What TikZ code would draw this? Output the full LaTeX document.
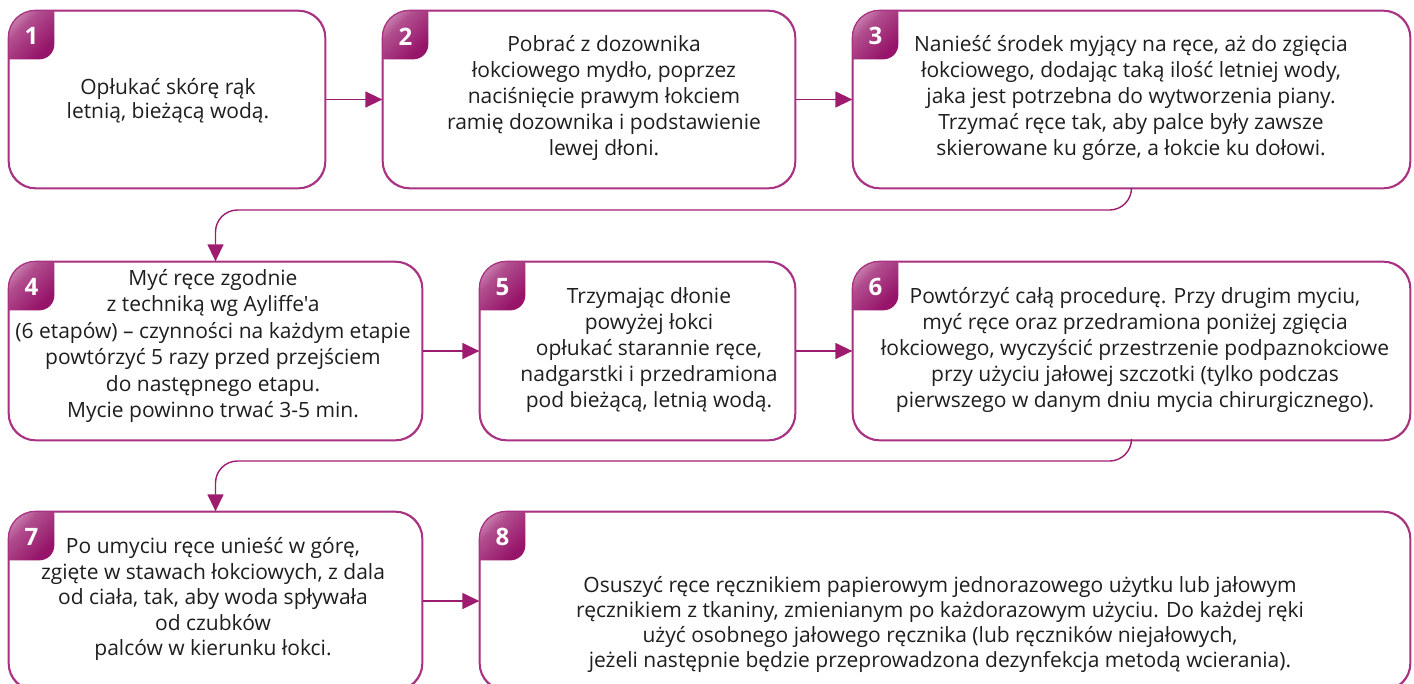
\documentclass[tikz,border=0pt]{standalone}
\usepackage{fontspec}
\setmainfont{Open Sans}[Ligatures=TeXOff]
\usetikzlibrary{arrows.meta,calc}
\definecolor{mag}{RGB}{158,28,112}
\definecolor{magline}{RGB}{170,50,130}
\definecolor{badgelight}{RGB}{240,212,228}
\definecolor{badgedark}{RGB}{150,20,105}
\definecolor{txt}{RGB}{30,30,30}
\tikzset{
  box/.style={draw=magline, line width=1.3pt, rounded corners=27pt, fill=white, inner sep=0pt},
  conn/.style={draw=mag, line width=1.4pt, -{Triangle[length=17pt,width=16pt]}},
  rowconn/.style={conn, rounded corners=22pt},
  body/.style={text=txt, align=center, inner sep=0pt},
  num/.style={text=white, font=\fontsize{24}{24}\selectfont\bfseries, inner sep=0pt},
}
\newcommand{\mkbadge}[3]{%
  \begin{scope}
    \clip[rounded corners=27pt] (#1.north west) rectangle (#1.south east);
    \shade[top color=badgelight, bottom color=badgedark, middle color=badgedark!70!badgelight, shading angle=45, rounded corners=15pt]
      ($(#1.north west)+(-20,-12)$) rectangle ($(#1.north west)+(46,49)$);
  \end{scope}
  \draw[magline, line width=1.3pt, rounded corners=27pt] (#1.north west) rectangle (#1.south east);
  \node[num] (#2) at ($(#1.north west)+(23,26)$) {#3};
}
\begin{document}
\begin{tikzpicture}[x=1pt,y=-1pt]
\useasboundingbox (0,0) rectangle (1414,683);
\clip (0,0) rectangle (1414,683);
% boxes
\node[box, minimum width=316pt, minimum height=177pt] (b1) at (167,99.5) {};
\node[box, minimum width=412pt, minimum height=177pt] (b2) at (589,99.5) {};
\node[box, minimum width=557pt, minimum height=177pt] (b3) at (1131.5,99.5) {};
\node[box, minimum width=413pt, minimum height=178pt] (b4) at (215.5,351) {};
\node[box, minimum width=315pt, minimum height=178pt] (b5) at (637.5,351) {};
\node[box, minimum width=557pt, minimum height=178pt] (b6) at (1131.5,351) {};
\node[box, minimum width=413pt, minimum height=178pt] (b7) at (215.5,601) {};
\node[box, minimum width=930pt, minimum height=178pt] (b8) at (945,601) {};
% badges
\mkbadge{b1}{n1}{1}
\mkbadge{b2}{n2}{2}
\mkbadge{b3}{n3}{3}
\mkbadge{b4}{n4}{4}
\mkbadge{b5}{n5}{5}
\mkbadge{b6}{n6}{6}
\mkbadge{b7}{n7}{7}
\mkbadge{b8}{n8}{8}
% texts
\node[body, font=\fontsize{21}{24}\selectfont] (t1) at (168,101) {Opłukać skórę rąk\\letnią, bieżącą wodą.};
\node[body, font=\fontsize{21}{26}\selectfont] (t2) at (604,98) {Pobrać z dozownika\\łokciowego mydło, poprzez\\naciśnięcie prawym łokciem\\ramię dozownika i podstawienie\\lewej dłoni.};
\node[body, font=\fontsize{21}{26}\selectfont] (t3) at (1131,98) {Nanieść środek myjący na ręce, aż do zgięcia\\łokciowego, dodając taką ilość letniej wody,\\jaka jest potrzebna do wytworzenia piany.\\Trzymać ręce tak, aby palce były zawsze\\skierowane ku górze, a łokcie ku dołowi.};
\node[body, font=\fontsize{21}{26.5}\selectfont] (t4) at (213,346) {Myć ręce zgodnie\\z techniką wg Ayliffe'a\\(6 etapów) – czynności na każdym etapie\\powtórzyć 5 razy przed przejściem\\do następnego etapu.\\Mycie powinno trwać 3-5 min.};
\node[body, font=\fontsize{21}{26}\selectfont] (t5) at (649,350) {Trzymając dłonie\\powyżej łokci\\opłukać starannie ręce,\\nadgarstki i przedramiona\\pod bieżącą, letnią wodą.};
\node[body, font=\fontsize{21}{26}\selectfont] (t6) at (1135,350) {Powtórzyć całą procedurę. Przy drugim myciu,\\myć ręce oraz przedramiona poniżej zgięcia\\łokciowego, wyczyścić przestrzenie podpaznokciowe\\przy użyciu jałowej szczotki (tylko podczas\\pierwszego w danym dniu mycia chirurgicznego).};
\node[body, font=\fontsize{21}{25.5}\selectfont] (t7) at (213,599) {Po umyciu ręce unieść w górę,\\zgięte w stawach łokciowych, z dala\\od ciała, tak, aby woda spływała\\od czubków\\palców w kierunku łokci.};
\node[body, font=\fontsize{21}{25}\selectfont] (t8) at (940,624) {Osuszyć ręce ręcznikiem papierowym jednorazowego użytku lub jałowym\\ręcznikiem z tkaniny, zmienianym po każdorazowym użyciu. Do każdej ręki\\użyć osobnego jałowego ręcznika (lub ręczników niejałowych,\\jeżeli następnie będzie przeprowadzona dezynfekcja metodą wcierania).};
% connectors
\draw[conn] (b1.east) -- (b2.west);
\draw[conn] (b2.east) -- (b3.west);
\draw[conn] (b4.east) -- (b5.west);
\draw[conn] (b5.east) -- (b6.west);
\draw[conn] (b7.east) -- (b8.west);
\coordinate (k1) at (215.5,210);
\coordinate (k2) at (215.5,461);
\draw[rowconn] (b3.south) |- (k1) -- (b4.north);
\draw[rowconn] (b6.south) |- (k2) -- (b7.north);
\end{tikzpicture}
\end{document}
